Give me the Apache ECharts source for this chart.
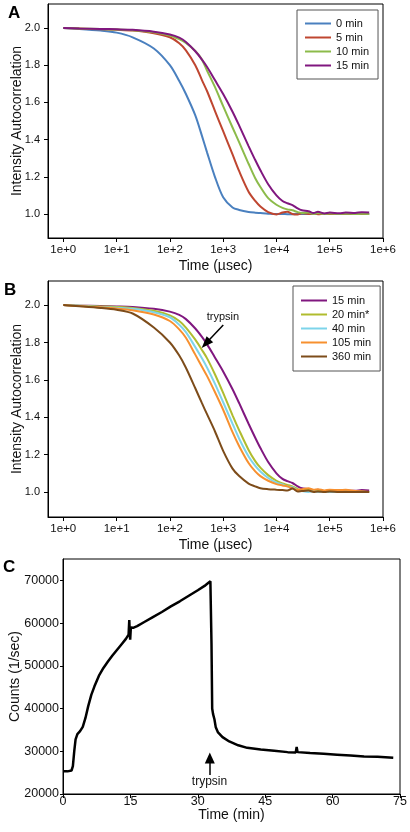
<!DOCTYPE html>
<html><head><meta charset="utf-8">
<script src="https://cdn.jsdelivr.net/npm/echarts@6/dist/echarts.min.js"></script>
<style>html,body{margin:0;padding:0;background:#fff}#c{width:410px;height:832px}</style>
</head><body><div id="c"></div>
<script>
// ---------- data ----------
// common lag-time grid (µs) for panels A and B
const tau = [1,2,5,10,20,50,100,150,200,300,400,500,700,1000,1500,2000,3000,4000,5000,7000,10000,13000,16000,20000,25000,30000,40000,50000,60000,80000,100000,150000,200000,300000,400000,550000];

// Panel A
const aNames = ['0 min','5 min','10 min','15 min'];
const a0  = [2.0,1.995,1.986,1.975,1.95,1.89,1.80,1.715,1.645,1.53,1.42,1.33,1.20,1.09,1.035,1.022,1.011,1.007,1.005,1.002,1.0,1.0,0.999,0.999,1.0,1.0,1.0,1.0,1.0,1.0,1.0,1.0,1.0,1.0,1.0,1.0];
const a5  = [2.0,1.997,1.993,1.99,1.986,1.972,1.95,1.918,1.88,1.80,1.72,1.66,1.555,1.445,1.32,1.23,1.12,1.07,1.04,1.01,0.998,1.008,1.012,1.0,0.997,1.004,1.0,1.003,0.999,1.001,1.0,1.0,1.001,1.0,1.0,1.0];
const a10 = [2.0,1.997,1.994,1.992,1.988,1.977,1.96,1.94,1.92,1.876,1.83,1.77,1.683,1.58,1.465,1.385,1.27,1.192,1.145,1.085,1.05,1.033,1.025,1.02,1.01,1.006,1.008,1.0,1.006,1.0,1.003,1.0,1.002,1.0,1.001,1.0];
const a15 = [2.0,1.997,1.995,1.993,1.99,1.98,1.965,1.948,1.925,1.875,1.83,1.79,1.72,1.645,1.55,1.475,1.365,1.29,1.235,1.16,1.10,1.07,1.058,1.048,1.03,1.02,1.015,1.005,1.012,1.003,1.008,1.004,1.008,1.006,1.01,1.008];

// Panel B
const bNames = ['15 min','20 min*','40 min','105 min','360 min'];
const b15  = [2.0,1.997,1.995,1.993,1.99,1.98,1.965,1.948,1.925,1.875,1.83,1.79,1.72,1.645,1.55,1.475,1.365,1.29,1.235,1.16,1.10,1.07,1.058,1.048,1.03,1.02,1.015,1.005,1.012,1.003,1.008,1.004,1.008,1.006,1.01,1.008];
const b20  = [2.0,1.997,1.993,1.99,1.985,1.97,1.945,1.915,1.88,1.815,1.76,1.715,1.63,1.53,1.41,1.33,1.225,1.165,1.13,1.09,1.06,1.045,1.038,1.03,1.015,1.01,1.012,1.005,1.01,1.003,1.006,1.002,1.004,1.0,1.002,1.0];
const b40  = [2.0,1.996,1.99,1.986,1.98,1.962,1.935,1.895,1.855,1.775,1.715,1.665,1.58,1.48,1.365,1.285,1.19,1.14,1.11,1.075,1.05,1.04,1.03,1.025,1.01,1.005,1.0,1.004,1.0,1.002,1.0,1.0,1.001,1.0,1.0,1.0];
const b105 = [2.0,1.995,1.988,1.982,1.973,1.95,1.915,1.87,1.825,1.735,1.67,1.62,1.535,1.44,1.32,1.245,1.155,1.11,1.085,1.06,1.042,1.035,1.03,1.02,1.01,1.015,1.02,1.012,1.015,1.008,1.012,1.01,1.012,1.005,1.003,1.0];
const b360 = [2.0,1.994,1.985,1.975,1.955,1.88,1.80,1.73,1.665,1.555,1.475,1.415,1.325,1.22,1.125,1.085,1.045,1.03,1.02,1.015,1.012,1.01,1.008,1.018,1.002,1.005,1.008,1.0,1.003,1.0,1.002,1.0,1.0,1.0,1.0,1.0];

// Panel C (time in min, counts 1/sec)
const cTime   = [0,1,1.9,2.2,2.5,2.8,3.2,3.8,4.4,5,5.6,6.3,7,8,9,10,11,12,13,14,14.6,14.75,14.85,14.95,15.1,15.6,16.5,18,20,22,24,26,28,30,31.5,32.3,32.8,32.95,33.05,33.2,33.4,33.7,34,34.5,35.5,37,39,41,44,47,50,51.8,52,52.2,55,58,61,64,67,70,73.5];
const cCounts = [25300,25300,25500,26500,30000,32800,34000,34700,35700,37800,40500,43200,45200,47700,49500,51000,52400,53700,55000,56300,57300,60700,58000,56100,59000,58900,59300,60200,61400,62600,63900,65100,66400,67700,68700,69400,69800,69600,55000,40000,38700,37500,35600,34400,33300,32300,31400,30800,30400,30100,29800,29700,31000,29800,29600,29400,29200,29000,28800,28700,28500];

// tick labels
const yTicksAB = [1.0,1.2,1.4,1.6,1.8,2.0];
const yTicksC  = [20000,30000,40000,50000,60000,70000];

// annotations (data coordinates)
const arrowB = {from:[1005,1.893], to:[472,1.794], text:[991,1.936]};
const arrowC = {from:[32.67,24450], to:[32.67,28440], text:[32.6,22880]};

// ---------- styling ----------
const FONT = '"Liberation Sans", Arial, sans-serif';
const TXT = '#111';
const aColors = ['#4a80bf','#bf4630','#8cbb4a','#80177f'];
const bColors = ['#80177f','#b0bc2e','#7dd4ea','#f7902f','#7d4c1a'];

function xLogAxis(gi){
  return {
    type:'log', logBase:10, gridIndex:gi, min:0.516, max:1000000,
    axisLine:{show:true,onZero:false,lineStyle:{color:'#000',width:1}},
    axisTick:{show:true,length:4,lineStyle:{color:'#000'}},
    minorTick:{show:false}, splitLine:{show:false}, minorSplitLine:{show:false},
    axisLabel:{showMinLabel:false, fontSize:11.5, color:TXT, margin:6, fontFamily:FONT,
      formatter:v=>'1e+'+Math.round(Math.log10(v))},
    name:'Time (µsec)', nameLocation:'middle', nameGap:21, nameMoveOverlap:false,
    nameTextStyle:{fontSize:14,color:TXT,fontFamily:FONT}
  };
}
function yABAxis(gi,min,max){
  return {
    type:'value', gridIndex:gi, min:min, max:max,
    axisLine:{show:true,onZero:false,lineStyle:{color:'#000',width:1}},
    axisTick:{show:true,length:4,customValues:yTicksAB,lineStyle:{color:'#000'}},
    splitLine:{show:false},
    axisLabel:{customValues:yTicksAB, formatter:v=>v.toFixed(1), fontSize:11, color:TXT, margin:8, fontFamily:FONT},
    name:'Intensity Autocorrelation', nameLocation:'middle', nameGap:24, nameMoveOverlap:false,
    nameTextStyle:{fontSize:14,color:TXT,fontFamily:FONT}
  };
}
function lineSeries(name, vals, color, gi){
  return {
    type:'line', name:name, xAxisIndex:gi, yAxisIndex:gi,
    data: tau.map((t,i)=>[t, vals[i]]),
    showSymbol:false, symbol:'none', smooth:0.3,
    lineStyle:{color:color,width:2}, itemStyle:{color:color},
    z:3, silent:true, animation:false
  };
}

const aVals = [a0,a5,a10,a15];
const bVals = [b15,b20,b40,b105,b360];
const series = [];
aNames.forEach((n,i)=>series.push(lineSeries(n,aVals[i],aColors[i],0)));
bNames.forEach((n,i)=>series.push(lineSeries(n,bVals[i],bColors[i],1)));
// arrow + text on panel B
series[4].markLine = {
  silent:true, animation:false, label:{show:false},
  lineStyle:{color:'#000',width:1.5,type:'solid'},
  data:[[{coord:arrowB.from, symbol:'none'},{coord:arrowB.to, symbol:'triangle', symbolSize:[9,12]}]]
};
series[4].markPoint = {
  silent:true, animation:false, symbol:'rect', symbolSize:1, itemStyle:{color:'rgba(0,0,0,0)'},
  label:{show:true, position:'inside', formatter:'trypsin', fontSize:11, color:TXT, fontFamily:FONT},
  data:[{coord:arrowB.text}]
};
// Panel C
series.push({
  type:'line', name:'counts', xAxisIndex:2, yAxisIndex:2,
  data: cTime.map((t,i)=>[t,cCounts[i]]),
  showSymbol:false, symbol:'none', lineStyle:{color:'#000',width:2.5}, itemStyle:{color:'#000'},
  silent:true, animation:false,
  markLine:{
    silent:true, animation:false, label:{show:false},
    lineStyle:{color:'#000',width:1.5,type:'solid'},
    data:[[{coord:arrowC.from, symbol:'none'},{coord:arrowC.to, symbol:'triangle', symbolSize:[10,11]}]]
  },
  markPoint:{
    silent:true, animation:false, symbol:'rect', symbolSize:1, itemStyle:{color:'rgba(0,0,0,0)'},
    label:{show:true, position:'inside', formatter:'trypsin', fontSize:12, color:TXT, fontFamily:FONT},
    data:[{coord:arrowC.text}]
  }
});

const gridCommon = {show:true, borderColor:'#000', borderWidth:1, backgroundColor:'#fff', containLabel:false, outerBoundsMode:'none'};
const legendCommon = {
  orient:'vertical', icon:'rect', itemWidth:26, itemHeight:2, itemGap:3,
  borderColor:'#555', borderWidth:1, backgroundColor:'#fff', selectedMode:false,
  textStyle:{fontSize:11,color:TXT,fontFamily:FONT}
};

const option = {
  animation:false,
  textStyle:{fontFamily:FONT},
  grid:[
    Object.assign({left:48, top:4, width:335, height:234}, gridCommon),
    Object.assign({left:48, top:281, width:335, height:236}, gridCommon),
    Object.assign({left:63, top:559, width:337, height:235}, gridCommon)
  ],
  xAxis:[
    xLogAxis(0), xLogAxis(1),
    {type:'value', gridIndex:2, min:0, max:75, interval:15,
     axisLine:{show:true,onZero:false,lineStyle:{color:'#000',width:1}},
     axisTick:{show:true,length:4,lineStyle:{color:'#000'}},
     splitLine:{show:false},
     axisLabel:{fontSize:12.5,color:TXT,margin:1,fontFamily:FONT},
     name:'Time (min)', nameLocation:'middle', nameGap:14, nameMoveOverlap:false,
     nameTextStyle:{fontSize:14,color:TXT,fontFamily:FONT}}
  ],
  yAxis:[
    yABAxis(0,0.871,2.129), yABAxis(1,0.866,2.129),
    {type:'value', gridIndex:2, min:20000, max:75000,
     axisLine:{show:true,onZero:false,lineStyle:{color:'#000',width:1}},
     axisTick:{show:true,length:3,customValues:yTicksC,lineStyle:{color:'#000'}},
     splitLine:{show:false},
     axisLabel:{customValues:yTicksC, formatter:v=>String(Math.round(v)), fontSize:12.5,color:TXT,margin:4,fontFamily:FONT},
     name:'Counts (1/sec)', nameLocation:'middle', nameGap:41, nameMoveOverlap:false,
     nameTextStyle:{fontSize:14,color:TXT,fontFamily:FONT}}
  ],
  legend:[
    Object.assign({left:297, top:10, padding:[8,9,8,8], data:aNames}, legendCommon),
    Object.assign({left:293, top:286, padding:[9,9,9,8], data:bNames}, legendCommon)
  ],
  graphic:[
    {type:'text', left:8, top:5, style:{text:'A', font:'bold 17px "Liberation Sans", Arial', fill:'#000'}},
    {type:'text', left:4, top:282, style:{text:'B', font:'bold 17px "Liberation Sans", Arial', fill:'#000'}},
    {type:'text', left:3, top:559, style:{text:'C', font:'bold 17px "Liberation Sans", Arial', fill:'#000'}}
  ],
  series:series
};
const chart = echarts.init(document.getElementById('c'), null, {renderer:'canvas'});
chart.setOption(option);
</script>
</body></html>
